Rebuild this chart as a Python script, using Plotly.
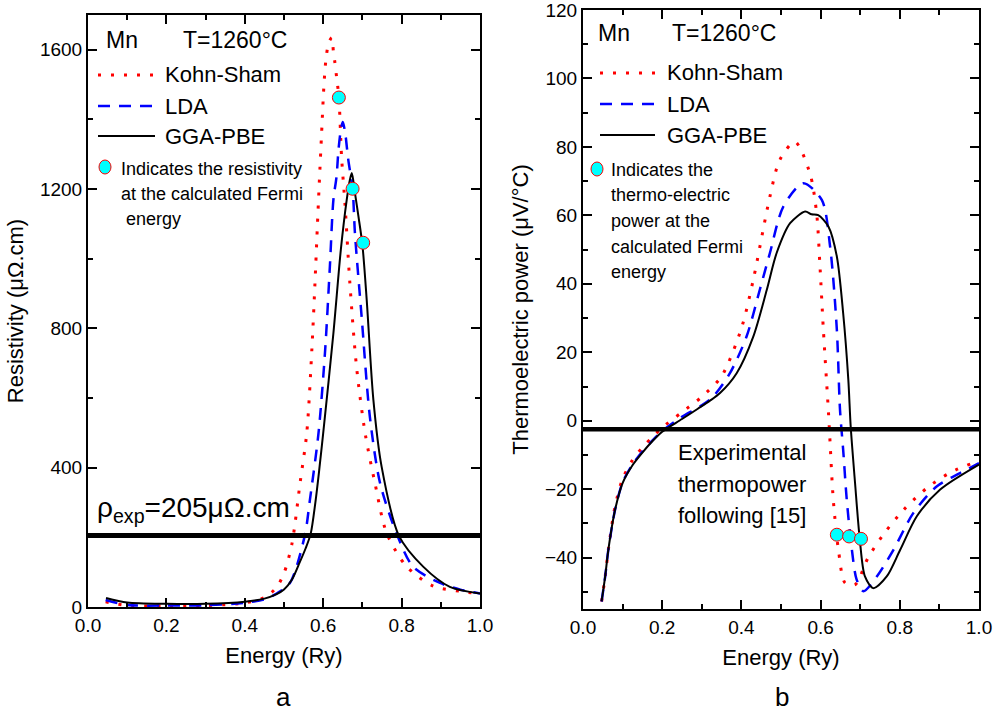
import plotly.graph_objects as go

# ---------------- data: resistivity (panel a) ----------------
ks_rho_E = [0.045, 0.10, 0.20, 0.30, 0.40, 0.45, 0.48, 0.50, 0.52, 0.541, 0.558, 0.571, 0.579, 0.585,
            0.590, 0.596, 0.602, 0.607, 0.614, 0.622, 0.626, 0.630, 0.634, 0.640, 0.647, 0.656, 0.668,
            0.685, 0.707, 0.732, 0.762, 0.813, 0.881, 0.95, 1.0]
ks_rho = [15, 4, 3, 4, 12, 27, 55, 97, 180, 356, 499, 738, 930, 1090,
          1218, 1362, 1500, 1572, 1620, 1635, 1595, 1562, 1523, 1463, 1290, 1150, 930,
          690, 499, 356, 212, 116, 60, 45, 38]

lda_rho_E = [0.045, 0.10, 0.20, 0.30, 0.40, 0.45, 0.48, 0.515, 0.553, 0.566, 0.588, 0.605, 0.617,
             0.626, 0.634, 0.639, 0.645, 0.650, 0.656, 0.664, 0.675, 0.681, 0.698, 0.719, 0.745,
             0.787, 0.829, 0.898, 0.95, 1.0]
lda_rho = [20, 6, 4, 5, 12, 22, 38, 69, 205, 307, 499, 738, 977,
           1169, 1236, 1313, 1370, 1393, 1362, 1284, 1201, 1073, 834, 547, 356,
           212, 116, 69, 50, 39]

gga_rho_E = [0.046, 0.10, 0.20, 0.30, 0.40, 0.45, 0.48, 0.50, 0.52, 0.54, 0.555, 0.568, 0.58, 0.59,
             0.600, 0.626, 0.645, 0.660, 0.668, 0.673, 0.681, 0.690, 0.700, 0.711, 0.728, 0.749,
             0.793, 0.855, 0.923, 1.0]
gga_rho = [26, 13, 9, 9, 15, 24, 36, 50, 78, 128, 168, 210, 300, 395,
           499, 786, 1026, 1169, 1226, 1246, 1189, 1121, 1040, 882, 595, 403,
           205, 116, 58, 39]

fermi_rho_E = [0.640, 0.675, 0.702]
fermi_rho = [1463, 1201, 1046]
rho_exp = 205

# ---------------- data: thermopower (panel b) ----------------
ks_S_E = [0.047, 0.056, 0.064, 0.081, 0.10, 0.125, 0.15, 0.175, 0.20, 0.25, 0.30, 0.35, 0.40, 0.43,
          0.472, 0.497, 0.535, 0.573, 0.590, 0.598, 0.607, 0.620, 0.624, 0.632, 0.645, 0.662, 0.687,
          0.72, 0.76, 0.81, 0.87, 0.93, 1.0]
ks_S = [-52.8, -45.5, -37.7, -25.0, -17.0, -11.5, -7.8, -4.8, -2.0, 2.5, 7.0, 13.0, 27.0, 41.2,
        65.5, 76.2, 81.5, 72.3, 60.6, 46.0, 26.6, 2.2, -6.5, -23.0, -37.7, -47.4, -47.9,
        -40.0, -33.0, -26.0, -19.5, -15.0, -11.7]

lda_S_E = [0.047, 0.056, 0.064, 0.081, 0.10, 0.125, 0.15, 0.175, 0.20, 0.245, 0.30, 0.329, 0.371,
           0.413, 0.447, 0.472, 0.506, 0.556, 0.603, 0.624, 0.641, 0.649, 0.657, 0.666, 0.679,
           0.691, 0.708, 0.742, 0.784, 0.834, 0.893, 0.952, 1.0]
lda_S = [-52.8, -45.5, -37.7, -26.0, -18.0, -12.8, -9.0, -5.8, -3.0, 0.8, 4.5, 7.1, 13.9,
         24.6, 38.5, 49.0, 62.6, 69.4, 64.5, 50.9, 26.6, 3.2, -8.5, -23.0, -37.7,
         -46.4, -49.8, -45.5, -37.7, -27.0, -19.2, -15.3, -12.4]

gga_S_E = [0.047, 0.056, 0.064, 0.081, 0.10, 0.125, 0.15, 0.175, 0.20, 0.25, 0.29, 0.32, 0.346,
           0.388, 0.430, 0.464, 0.489, 0.523, 0.561, 0.577, 0.594, 0.620, 0.641, 0.657, 0.670,
           0.676, 0.687, 0.699, 0.712, 0.733, 0.767, 0.801, 0.843, 0.902, 1.0]
gga_S = [-52.8, -45.5, -37.7, -26.0, -18.2, -13.0, -9.3, -6.0, -3.2, 0.5, 3.5, 5.8, 8.1,
         13.9, 24.6, 38.2, 49.0, 57.7, 61.1, 60.3, 60.1, 56.7, 48.0, 31.4, 12.0,
         -1.7, -18.2, -34.7, -45.5, -48.9, -45.5, -37.7, -27.9, -20.1, -12.8]

fermi_S_E = [0.641, 0.672, 0.702]
fermi_S = [-33.3, -33.8, -34.5]
S_exp = -2.5

series_names = ["Kohn-Sham", "LDA", "GGA-PBE"]

# ---------------- styles ----------------
FONT = "Arial, Liberation Sans, sans-serif"
W, H = 994, 714
RED, BLUE, BLACK, CYAN = "#FF0000", "#0000FF", "#000000", "#00FFFF"
styles = [dict(color=RED, width=3, dash="3px,10px"),
          dict(color=BLUE, width=2.5, dash="12px,9px"),
          dict(color=BLACK, width=2, dash="solid")]


def px(x, y):
    return x / W, 1 - y / H


def xdom(a, b):
    return [px(a, 0)[0], px(b, 0)[0]]


def ydom(top, bottom):
    return [px(0, bottom)[1], px(0, top)[1]]


fig = go.Figure()

panel_a = [(ks_rho_E, ks_rho), (lda_rho_E, lda_rho), (gga_rho_E, gga_rho)]
panel_b = [(ks_S_E, ks_S), (lda_S_E, lda_S), (gga_S_E, gga_S)]

for (xe, yv), st, nm in zip(panel_a, styles, series_names):
    fig.add_trace(go.Scatter(x=xe, y=yv, mode="lines", name=nm, showlegend=False,
                             line=dict(shape="spline", smoothing=0.8, **st),
                             xaxis="x", yaxis="y"))
for (xe, yv), st, nm in zip(panel_b, styles, series_names):
    fig.add_trace(go.Scatter(x=xe, y=yv, mode="lines", name=nm, showlegend=False,
                             line=dict(shape="spline", smoothing=0.8, **st),
                             xaxis="x2", yaxis="y2"))

marker_style = dict(size=13, color=CYAN, line=dict(color=RED, width=1))
fig.add_trace(go.Scatter(x=fermi_rho_E, y=fermi_rho, mode="markers", marker=marker_style,
                         showlegend=False, xaxis="x", yaxis="y", cliponaxis=False))
fig.add_trace(go.Scatter(x=fermi_S_E, y=fermi_S, mode="markers", marker=marker_style,
                         showlegend=False, xaxis="x2", yaxis="y2", cliponaxis=False))

# ---------------- axes ----------------
axis_common = dict(showline=True, linecolor="black", linewidth=2, mirror="ticks",
                   ticks="inside", ticklen=9, tickwidth=2, tickcolor="black",
                   showgrid=False, zeroline=False, automargin=False,
                   ticklabeloverflow="allow",
                   tickfont=dict(family=FONT, size=19, color="black"))
xa = dict(range=[0, 1], dtick=0.2, tick0=0, tickformat=".1f",
          minor=dict(dtick=0.1, ticks="inside", ticklen=5, tickwidth=2, tickcolor="black"),
          title=dict(text="Energy (Ry)", font=dict(family=FONT, size=22, color="black"), standoff=13))

fig.update_layout(
    width=W, height=H,
    margin=dict(l=0, r=0, t=0, b=0, autoexpand=False),
    paper_bgcolor="white", plot_bgcolor="white",
    xaxis=dict(domain=xdom(88, 480), anchor="y", **xa, **axis_common),
    yaxis=dict(domain=ydom(15, 607), anchor="x", range=[0, 1700], dtick=400, tick0=0,
               minor=dict(dtick=200, ticks="inside", ticklen=5, tickwidth=2, tickcolor="black"),
               title=dict(text="Resistivity (μΩ.cm)", font=dict(family=FONT, size=22, color="black"),
                          standoff=10),
               **axis_common),
    xaxis2=dict(domain=xdom(583, 979), anchor="y2", **xa, **axis_common),
    yaxis2=dict(domain=ydom(10, 609), anchor="x2", range=[-55, 120], dtick=20, tick0=0,
                minor=dict(dtick=10, ticks="inside", ticklen=5, tickwidth=2, tickcolor="black"),
                title=dict(text="Thermoelectric power (μV/°C)",
                           font=dict(family=FONT, size=22, color="black"), standoff=10),
                **axis_common),
)

shapes = [
    dict(type="line", xref="x domain", yref="y", x0=0, x1=1, y0=rho_exp, y1=rho_exp,
         line=dict(color="black", width=5)),
    dict(type="line", xref="x2 domain", yref="y2", x0=0, x1=1, y0=S_exp, y1=S_exp,
         line=dict(color="black", width=4.5)),
]

annotations = []


def txt(text, x, y, size, anchor="left"):
    xp, yp = px(x, y)
    annotations.append(dict(text=text, x=xp, y=yp, xref="paper", yref="paper",
                            xanchor=anchor, yanchor="middle", showarrow=False,
                            font=dict(family=FONT, size=size, color="black")))


# legends (manual)
legend_rows = [
    dict(lx0=98, lx1=155, tx=163, ys=[75, 106, 136], mnx=104, tX=181, hy=40,
         mkx=105, mky=167, nx=119, nys=[169, 194, 219],
         notes=["Indicates the resistivity", "at the calculated Fermi", " energy"]),
    dict(lx0=600, lx1=655, tx=665, ys=[73, 104, 135], mnx=596, tX=670, hy=33,
         mkx=597, mky=169, nx=609, nys=[170, 195, 221, 247, 272],
         notes=["Indicates the", "thermo-electric", "power at the", "calculated Fermi", "energy"]),
]
for lg in legend_rows:
    txt("Mn", lg["mnx"], lg["hy"], 23)
    txt("T=1260°C", lg["tX"], lg["hy"], 23)
    for st, nm, yy in zip(styles, series_names, lg["ys"]):
        x0, y0 = px(lg["lx0"], yy)
        x1, _ = px(lg["lx1"], yy)
        shapes.append(dict(type="line", xref="paper", yref="paper", x0=x0, x1=x1, y0=y0, y1=y0,
                           line=dict(color=st["color"], width=st["width"], dash=st["dash"])))
        txt(nm, lg["tx"], yy, 22)
    for line, yy in zip(lg["notes"], lg["nys"]):
        txt(line, lg["nx"], yy, 18)
    cx, cy = px(lg["mkx"], lg["mky"])
    shapes.append(dict(type="circle", xref="paper", yref="paper", xsizemode="pixel",
                       ysizemode="pixel", xanchor=cx, yanchor=cy, x0=-6, x1=6, y0=-7, y1=7,
                       fillcolor=CYAN, line=dict(color=RED, width=1)))

txt("ρ<sub>exp</sub>=205μΩ.cm", 95, 509, 28)
txt("Experimental", 676, 452, 22)
txt("thermopower", 676, 484, 22)
txt("following [15]", 676, 515, 22)
txt("a", 283, 697, 26, anchor="center")
txt("b", 782, 697, 26, anchor="center")

fig.update_layout(shapes=shapes, annotations=annotations)
# remove the browser's default page margin so the 994x714 figure fills the window exactly
fig.write_html("out.html",
               config={"displayModeBar": False},
               post_script="document.body.style.margin='0px';document.body.style.overflow='hidden';")
